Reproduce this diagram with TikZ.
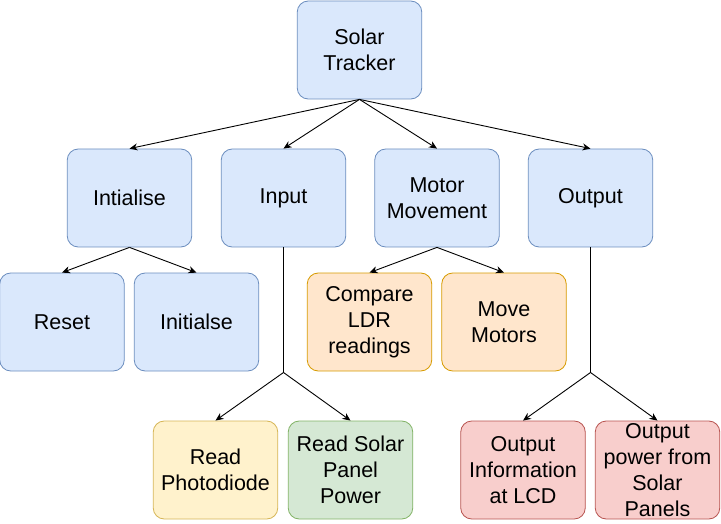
\documentclass[tikz,border=0pt]{standalone}
\usepackage{fontspec}
\setmainfont{Liberation Sans}
\usetikzlibrary{arrows.meta}
\definecolor{bfill}{HTML}{DAE8FC}\definecolor{bline}{HTML}{6C8EBF}
\definecolor{ofill}{HTML}{FFE6CC}\definecolor{oline}{HTML}{D79B00}
\definecolor{yfill}{HTML}{FFF2CC}\definecolor{yline}{HTML}{D6B656}
\definecolor{gfill}{HTML}{D5E8D4}\definecolor{gline}{HTML}{82B366}
\definecolor{rfill}{HTML}{F8CECC}\definecolor{rline}{HTML}{B85450}
\tikzset{
  box/.style={rectangle, rounded corners=11pt, draw, line width=0.8pt,
    minimum width=124.5pt, minimum height=98pt, inner sep=0pt, align=center,
    font=\fontsize{21.5pt}{26pt}\selectfont},
  bluebox/.style={box, fill=bfill, draw=bline},
  orangebox/.style={box, fill=ofill, draw=oline},
  yellowbox/.style={box, fill=yfill, draw=yline},
  greenbox/.style={box, fill=gfill, draw=gline},
  redbox/.style={box, fill=rfill, draw=rline},
  conn/.style={line width=0.9pt, black},
  arr/.style={conn, -{Stealth[length=8pt,width=7pt,inset=2.5pt]}}
}
\begin{document}
\begin{tikzpicture}[x=1pt,y=-1pt]
\useasboundingbox (0,0) rectangle (721,524);
\node[bluebox] (top) at (359.5,50) {Solar\\Tracker};
\node[bluebox] (ini) at (129.5,198) {Intialise};
\node[bluebox] (inp) at (283.5,198) {Input};
\node[bluebox] (mot) at (437,198) {Motor\\Movement};
\node[bluebox] (out) at (590.5,198) {Output};
\node[bluebox] (res) at (62,322) {Reset};
\node[bluebox] (ini2) at (196.5,322) {Initialse};
\node[orangebox] (cmp) at (369.5,322) {Compare\\LDR\\readings};
\node[orangebox] (mov) at (504,322) {Move\\Motors};
\node[yellowbox] (pd) at (215.5,470) {Read\\Photodiode};
\node[greenbox] (rsp) at (350.5,470) {Read Solar\\Panel\\Power};
\node[redbox] (oil) at (523,470) {Output\\Information\\at LCD};
\node[redbox] (ops) at (657.5,470) {Output\\power from\\Solar\\Panels};
\coordinate (j1) at (283.5,372.5);
\coordinate (j2) at (590.5,372.5);
\draw[arr] (top.south) -- (ini.north);
\draw[arr] (top.south) -- (inp.north);
\draw[arr] (top.south) -- (mot.north);
\draw[arr] (top.south) -- (out.north);
\draw[arr] (ini.south) -- (res.north);
\draw[arr] (ini.south) -- (ini2.north);
\draw[arr] (mot.south) -- (cmp.north);
\draw[arr] (mot.south) -- (mov.north);
\draw[conn] (inp.south) -- (j1);
\draw[arr] (j1) -- (pd.north);
\draw[arr] (j1) -- (rsp.north);
\draw[conn] (out.south) -- (j2);
\draw[arr] (j2) -- (oil.north);
\draw[arr] (j2) -- (ops.north);
\end{tikzpicture}
\end{document}
